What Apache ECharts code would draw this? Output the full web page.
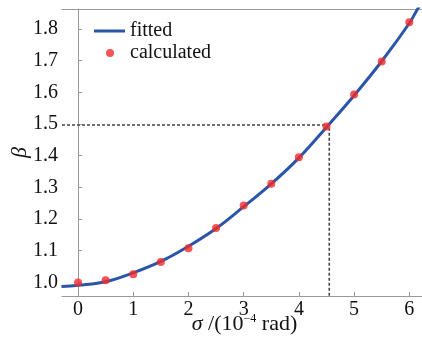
<!DOCTYPE html>
<html><head><meta charset="utf-8">
<script src="https://cdn.jsdelivr.net/npm/echarts@6/dist/echarts.min.js"></script>
<style>html,body{margin:0;padding:0;background:#fff}#c{width:422px;height:339px}</style>
</head><body><div id="c"></div>
<script>
// calculated points
const calcX = [0, 0.5, 1, 1.5, 2, 2.5, 3, 3.5, 4, 4.5, 5, 5.5, 6];
const calcY = [1.000, 1.007, 1.026, 1.064, 1.108, 1.172, 1.243, 1.311, 1.395, 1.492, 1.593, 1.697, 1.821];
// fitted curve
const fitX = [-0.3, 0, 0.5, 1, 1.5, 2, 2.5, 3, 3.5, 4, 4.5, 5, 5.5, 6, 6.15, 6.3];
const fitY = [0.987, 0.991, 1.002, 1.030, 1.066, 1.114, 1.170, 1.239, 1.311, 1.393, 1.490, 1.590, 1.698, 1.818, 1.863, 1.905];
// reading lines
const readX = 4.55;
const readY = 1.497;
const xTicks = [0, 1, 2, 3, 4, 5, 6];
const yTicks = [1.0, 1.1, 1.2, 1.3, 1.4, 1.5, 1.6, 1.7, 1.8];

const xMin = -0.29, xMax = 6.32, yMin = 0.957, yMax = 1.863;
const serif = '"Liberation Serif", "DejaVu Serif", serif';

const chart = echarts.init(document.getElementById('c'));
chart.setOption({
  animation: false,
  textStyle: {fontFamily: serif},
  grid: {left: 62, right: -5, top: 9, bottom: 43, containLabel: false, outerBoundsMode: 'none'},
  legend: [{
    left: 89, top: 16, itemGap: 0,
    itemWidth: 31, itemHeight: 3, icon: 'rect',
    textStyle: {fontFamily: serif, fontSize: 20, color: '#111'},
    data: ['fitted']
  }, {
    left: 101, top: 38, itemGap: 0,
    itemWidth: 8, itemHeight: 8, icon: 'circle',
    textStyle: {fontFamily: serif, fontSize: 20, color: '#111', padding: [0, 0, 0, 11]},
    data: ['calculated']
  }],
  xAxis: [{
    type: 'value', min: xMin, max: xMax,
    axisLine: {show: true, lineStyle: {color: '#999', width: 1}},
    axisTick: {show: true, inside: true, length: 4, customValues: xTicks, lineStyle: {color: '#999'}},
    axisLabel: {customValues: xTicks, fontFamily: serif, fontSize: 20, color: '#111', margin: 4},
    splitLine: {show: false},
    name: '{i|σ} /(10{s|−4} rad)', nameLocation: 'middle', nameGap: 17, nameMoveOverlap: false,
    nameTextStyle: {fontFamily: serif, fontSize: 22, color: '#111',
      rich: {i: {fontStyle: 'italic', fontFamily: serif, fontSize: 22, color: '#111'},
             s: {fontSize: 12, verticalAlign: 'top', padding: [0,0,9,0], fontFamily: serif, color: '#111'}}}
  }, {
    type: 'value', position: 'top', min: xMin, max: xMax,
    axisLine: {show: true, lineStyle: {color: '#999', width: 1}},
    axisTick: {show: false}, axisLabel: {show: false}, splitLine: {show: false}
  }],
  yAxis: {
    type: 'value', min: yMin, max: yMax,
    axisLine: {show: true, lineStyle: {color: '#999', width: 1}},
    axisTick: {show: true, inside: true, length: 4, customValues: yTicks, lineStyle: {color: '#999'}},
    axisLabel: {customValues: yTicks, formatter: v => v.toFixed(1), fontFamily: serif, fontSize: 20, color: '#111', margin: 4},
    splitLine: {show: false},
    name: 'β', nameLocation: 'middle', nameGap: 31, nameMoveOverlap: false,
    nameTextStyle: {fontFamily: serif, fontStyle: 'italic', fontSize: 22, color: '#111'}
  },
  series: [
    {
      name: 'reading', type: 'line', symbol: 'none', silent: true, z: 1,
      data: [[xMin, readY], [readX, readY], [readX, yMin]],
      lineStyle: {color: '#444', width: 1.6, type: [3, 2]}
    },
    {
      name: 'fitted', type: 'line', smooth: 0.4, symbol: 'none', z: 2, clip: true,
      data: fitX.map((x, i) => [x, fitY[i]]),
      lineStyle: {color: '#2b55a7', width: 3}, itemStyle: {color: '#2b55a7'}
    },
    {
      name: 'calculated', type: 'scatter', symbol: 'circle', symbolSize: 8, z: 3,
      data: calcX.map((x, i) => [x, calcY[i]]),
      itemStyle: {color: '#f22a2a'}
    }
  ]
});
</script></body></html>
